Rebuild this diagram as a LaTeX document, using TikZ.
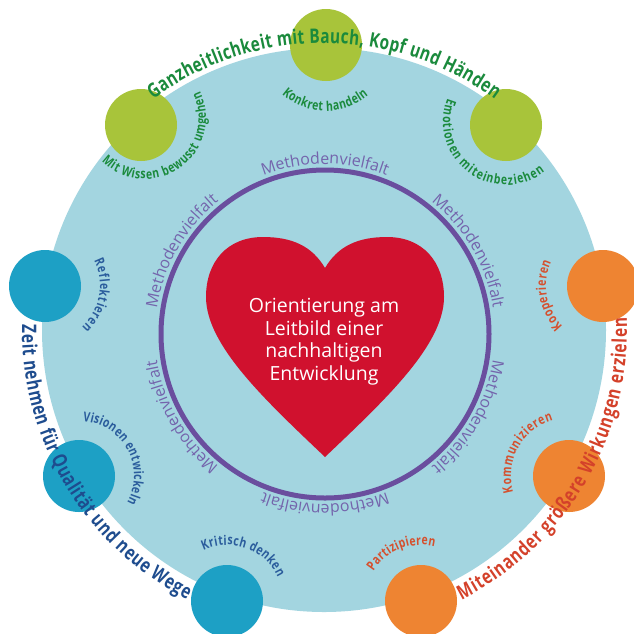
\documentclass[tikz,border=0pt]{standalone}
\usepackage{fontspec}
\setmainfont{Open Sans}
\newfontfamily\narrowfont{Open Sans}[FakeStretch=0.77]
\newfontfamily\labfont{Open Sans}[FakeStretch=0.78]
\usetikzlibrary{decorations.text}
\definecolor{bgblue}{HTML}{A3D5E0}
\definecolor{cgreen}{HTML}{A8C43A}
\definecolor{cblue}{HTML}{1DA0C5}
\definecolor{corange}{HTML}{EE8432}
\definecolor{heartred}{HTML}{D0112E}
\definecolor{ringpurple}{HTML}{6A4E9E}
\definecolor{mtext}{HTML}{7464AC}
\definecolor{tgreen}{HTML}{1A8A3C}
\definecolor{tblue}{HTML}{1E4C8E}
\definecolor{lblue}{HTML}{2A5C9C}
\definecolor{torange}{HTML}{D4412A}
\definecolor{lorange}{HTML}{D5502E}
\newcommand{\titlestyle}{\narrowfont\bfseries\fontsize{20}{20}\selectfont}
\newcommand{\labstyle}{\labfont\bfseries\fontsize{13.4}{13.4}\selectfont}
\newcommand{\methstyle}{\fontsize{16}{16}\selectfont}
\tikzset{
  disc/.style={circle, minimum size=72pt, inner sep=0pt, draw=none},
  fitted/.style={decorate, decoration={text along path, text align=fit to path, text={#1}}},
  centred/.style={decorate, decoration={text along path, text align=center, text={#1}}},
  hearttext/.style={text=white, font=\fontsize{19.5}{19.5}\selectfont, anchor=base, inner sep=0pt}
}
\begin{document}
\begin{tikzpicture}[x=1pt,y=1pt]
\useasboundingbox (0,-633) rectangle (634,0);
\fill[white] (0,-633) rectangle (634,0);
\coordinate (C) at (324,-330);
\coordinate (R) at (325,-334);
% big circle
\node[circle, fill=bgblue, minimum size=564pt, inner sep=0pt] (big) at (C) {};
% ring
\draw[ringpurple, line width=5pt] (R) circle[radius=164];
% heart
\fill[heartred] (325,-268) .. controls (338,-246) and (358,-237) .. (387,-237)
  .. controls (423,-237) and (444,-262) .. (444,-297)
  .. controls (444,-345) and (385,-400) .. (325,-457)
  .. controls (265,-400) and (206,-345) .. (206,-297)
  .. controls (206,-262) and (227,-237) .. (263,-237)
  .. controls (292,-237) and (312,-246) .. (325,-268) -- cycle;
\node[hearttext] (h1) at (324,-312) {Orientierung am};
\node[hearttext] (h2) at (324,-335) {Leitbild einer};
\node[hearttext] (h3) at (324,-357) {nachhaltigen};
\node[hearttext] (h4) at (324,-380) {Entwicklung};
% Methodenvielfalt
\foreach \a in {90,30,-30,-90,-150,150}{
  \pgfmathsetmacro{\sa}{\a+45}
  \pgfmathsetmacro{\ea}{\a-45}
  \path[centred={|\methstyle\color{mtext}|Methodenvielfalt}]
    ([shift={(\sa:170)}]R) arc[start angle=\sa, end angle=\ea, radius=170];
}
% small circles
\node[disc, fill=cgreen] (g1) at (141,-125) {};
\node[disc, fill=cgreen] (g2) at (326,-45) {};
\node[disc, fill=cgreen] (g3) at (506,-125) {};
\node[disc, fill=cblue] (b1) at (45,-286) {};
\node[disc, fill=cblue] (b2) at (79,-476) {};
\node[disc, fill=cblue] (b3) at (227,-601) {};
\node[disc, fill=corange] (o1) at (603,-286) {};
\node[disc, fill=corange] (o2) at (569,-476) {};
\node[disc, fill=corange] (o3) at (421,-601) {};
% titles
\path[fitted={|\titlestyle\color{tgreen}|Ganzheitlichkeit mit Bauch{,} Kopf und Händen}]
  ([shift={(126.5:287)}]C) arc[start angle=126.5, end angle=53.5, radius=287];
\path[fitted={|\titlestyle\color{tblue}|Zeit nehmen für Qualität und neue Wege}]
  ([shift={(179:302)}]C) arc[start angle=179, end angle=243, radius=302];
\path[fitted={|\titlestyle\color{torange}|Miteinander größere Wirkungen erzielen}]
  ([shift={(-63:303)}]C) arc[start angle=-63, end angle=2.3, radius=303];
% label centres
\coordinate (tg1) at (145,-118);
\coordinate (tg2) at (326,-45);
\coordinate (tg3) at (506,-122);
% green labels
\path[fitted={|\labstyle\color{tgreen}|Mit Wissen bewusst umgehen}]
  ([shift={(225:61)}]tg1) arc[start angle=225, end angle=386, radius=61];
\path[fitted={|\labstyle\color{tgreen}|Konkret handeln}]
  ([shift={(228:66)}]tg2) arc[start angle=228, end angle=310, radius=66];
\path[fitted={|\labstyle\color{tgreen}|Emotionen miteinbeziehen}]
  ([shift={(158:63)}]tg3) arc[start angle=158, end angle=308, radius=63];
% blue labels
\path[fitted={|\labstyle\color{lblue}|Reflektieren}]
  ([shift={(27:55)}]b1.center) arc[start angle=27, end angle=-48, radius=55];
\path[fitted={|\labstyle\color{lblue}|Visionen entwickeln}]
  ([shift={(86:55)}]b2.center) arc[start angle=86, end angle=-29, radius=55];
\path[fitted={|\labstyle\color{lblue}|Kritisch denken}]
  ([shift={(115:56)}]b3.center) arc[start angle=115, end angle=25, radius=56];
% orange labels
\path[fitted={|\labstyle\color{lorange}|Kooperieren}]
  ([shift={(225:57)}]o1.center) arc[start angle=225, end angle=155, radius=57];
\path[fitted={|\labstyle\color{lorange}|Kommunizieren}]
  ([shift={(196:58)}]o2.center) arc[start angle=196, end angle=106, radius=58];
\path[fitted={|\labstyle\color{lorange}|Partizipieren}]
  ([shift={(148:56)}]o3.center) arc[start angle=148, end angle=76, radius=56];
\end{tikzpicture}
\end{document}
